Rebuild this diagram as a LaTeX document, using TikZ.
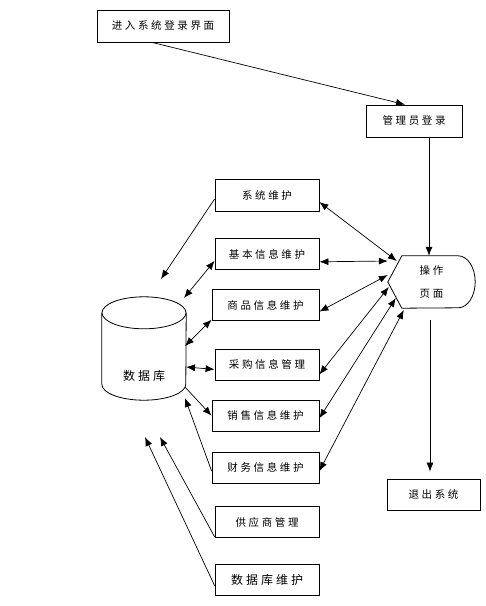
\documentclass[tikz,border=0pt]{standalone}
\usepackage{fontspec}
\newfontfamily\cjk[LetterSpace=25]{Noto Sans CJK SC}
\usetikzlibrary{arrows.meta, positioning}

\begin{document}
\begin{tikzpicture}[
            x=1pt, y=-1pt,
            every node/.style={font=\cjk\fontsize{10.5}{12}\selectfont},
            box/.style={
                rectangle,
                draw,
                line width=0.8pt,
                inner sep=0pt,
                minimum width=104pt,
                minimum height=31pt
            },
            widebox/.style={box, minimum width=107pt},
            bigtext/.style={font=\cjk\fontsize{12}{13}\selectfont},
            arrow/.style={-{Latex[length=9pt,width=7pt]}, line width=0.7pt},
            twoway/.style={{Latex[length=9pt,width=7pt]}-{Latex[length=9pt,width=7pt]}, line width=0.7pt}
        ]
        \useasboundingbox (0,0) rectangle (486,606);

        % Nodes
        \node[box, minimum width=132pt, minimum height=32pt] (entry) at (163,26) {进入系统登录界面};
        \node[box, minimum width=96pt, minimum height=32pt] (login) at (414,121) {管理员登录};

        \node[minimum width=87pt, minimum height=52pt, inner sep=0pt, align=center] (op) at (431.5,282) {操作\\[11pt]页面};
        \draw[line width=0.8pt] ([xshift=14pt]op.north west) -- ([xshift=-17pt]op.north east)
            arc[start angle=90, end angle=-90, x radius=17pt, y radius=26pt]
            -- ([xshift=14pt]op.south west) -- (op.west) -- cycle;

        \node[box, minimum height=32pt] (sysmaint) at (267,195) {系统维护};
        \node[box, below=27pt of sysmaint] (basicinfo) {基本信息维护};
        \node[widebox, below=19pt of basicinfo.south east, anchor=north east] (goodsinfo) {商品信息维护};
        \node[box, below=28pt of goodsinfo.south east, anchor=north east] (purchase) {采购信息管理};
        \node[widebox, below=19pt of purchase.south east, anchor=north east] (sales) {销售信息维护};
        \node[widebox, below=20pt of sales.south east, anchor=north east] (finance) {财务信息维护};
        \node[box, below=23pt of finance.south east, anchor=north east] (supplier) {供应商管理};
        \node[box, bigtext, below=26pt of supplier.south east, anchor=north east] (dbmaint) {数据库维护};

        \node[box, minimum width=93pt] (quit) at (433.5,494.5) {退出系统};

        % Database
        \node[minimum width=84pt, minimum height=103pt, inner sep=0pt] (db) at (144,348.5) {};
        \draw[line width=0.8pt] ([yshift=-16pt]db.north west) -- ([yshift=16pt]db.south west)
            arc[start angle=180, end angle=360, x radius=42pt, y radius=16pt]
            -- ([yshift=-16pt]db.north east);
        \draw[line width=0.8pt] ([yshift=-16pt]db.north) ellipse [x radius=42pt, y radius=16pt];
        \node[bigtext] (dbname) at (144,376) {数据库};

        \coordinate (sysend) at (161,279);
        \coordinate (basicend) at (184,298);
        \coordinate (goodsend) at (185,346);
        \coordinate (purchaseend) at (186,367);
        \coordinate (salesstart) at (185,387);
        \coordinate (financeend) at (185,398);
        \coordinate (supplierend) at (160,437);
        \coordinate (dbmaintend) at (145,437);

        % Arrows
        \draw[arrow] ([shift={(-11,0)}]entry.south) -- ([shift={(-9,0)}]login.north);
        \draw[arrow] ([shift={(15,0)}]login.south) -- ([shift={(-2.5,0)}]op.north);
        \draw[arrow] ([shift={(-1.5,12)}]op.south) -- ([shift={(-3.5,-7)}]quit.north);

        % to the operation page
        \draw[twoway] ([shift={(0,7)}]sysmaint.east) -- ([shift={(9,-21)}]op.west);
        \draw[twoway] ([shift={(0,7.5)}]basicinfo.east) -- ([shift={(0,-21)}]op.west);
        \draw[twoway] ([shift={(0,6.5)}]goodsinfo.east) -- ([shift={(0,-7)}]op.west);
        \draw[twoway] ([shift={(0,9.5)}]purchase.east) -- ([shift={(1,5)}]op.west);
        \draw[twoway] ([shift={(0,2.5)}]sales.east) -- ([shift={(8,16)}]op.west);
        \draw[twoway] ([shift={(0,3.5)}]finance.east) -- ([shift={(16,28)}]op.west);

        % to the database
        \draw[arrow] ([shift={(0,4)}]sysmaint.west) -- (sysend);
        \draw[twoway] ([shift={(0,6.5)}]basicinfo.west) -- (basicend);
        \draw[twoway] ([shift={(0,14.5)}]goodsinfo.west) -- (goodsend);
        \draw[twoway] ([shift={(0,4.5)}]purchase.west) -- (purchaseend);
        \draw[arrow] (salesstart) -- (sales.west);
        \draw[arrow] ([shift={(0,3.5)}]finance.west) -- (financeend);
        \draw[arrow] ([shift={(0,14.5)}]supplier.west) -- (supplierend);
        \draw[arrow] ([shift={(0,5.5)}]dbmaint.west) -- (dbmaintend);

        \end{tikzpicture}
\end{document}
